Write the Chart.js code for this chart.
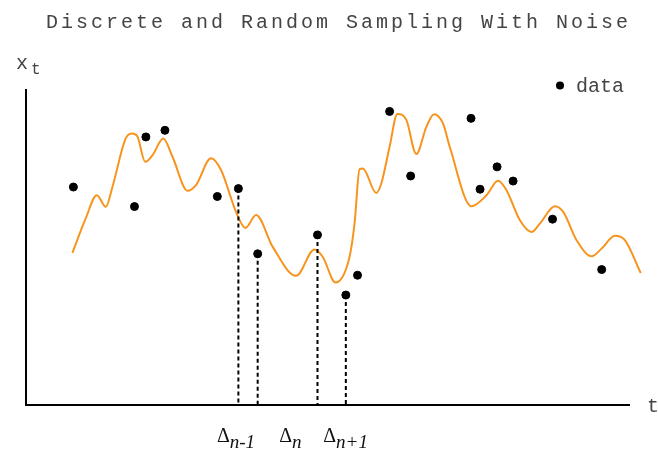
<!DOCTYPE html>
<html>
<head>
<meta charset="utf-8">
<script src="https://cdn.jsdelivr.net/npm/chart.js@4"></script>
<style>
  html, body { margin: 0; padding: 0; background: #fff; }
  #wrap { width: 658px; height: 451px; }
</style>
</head>
<body>
<div id="wrap"><canvas id="c" width="658" height="451"></canvas></div>
<script>
// Underlying continuous process x_t (time, value)
const pathT = [7.69, 9.92, 11.74, 13.24, 14.34, 16.56, 17.66, 18.49, 19.77, 20.98,
  22.76, 24.30, 26.79, 28.19, 30.68, 32.34, 34.83, 36.38, 38.16, 40.91,
  44.80, 47.84, 49.22, 51.33, 53.65, 54.49, 55.32, 55.86, 58.09, 58.92,
  60.30, 61.58, 63.07, 64.73, 66.40, 67.66, 69.15, 70.27, 73.87, 76.36,
  78.29, 79.68, 81.89, 83.84, 85.22, 87.71, 89.09, 91.31, 93.80, 95.47,
  97.67, 99.34, 101.94];
const pathX = [48.3, 59.3, 66.6, 62.9, 69.3, 84.7, 86.2, 85.2, 77.2, 79.3,
  84.6, 78.8, 68.0, 69.8, 78.3, 74.6, 61.3, 56.2, 60.3, 50.2,
  41.0, 49.4, 47.0, 38.9, 47.0, 57.7, 74.9, 75.1, 67.3, 70.3,
  82.0, 92.4, 90.5, 79.7, 88.3, 92.3, 89.4, 82.0, 63.1, 66.6,
  71.2, 68.2, 58.7, 54.9, 57.6, 63.1, 61.3, 52.3, 47.2, 49.7,
  53.7, 52.3, 41.9];

// Noisy observations taken at random times
const sampleT = [7.86, 17.99, 19.88, 23.04, 31.73, 35.22, 38.42, 48.34, 53.04, 54.98,
  60.30, 63.79, 73.80, 75.30, 78.12, 80.78, 87.32, 95.47];
const sampleX = [69.2, 63.0, 85.1, 87.2, 66.2, 68.7, 48.0, 54.0, 34.9, 41.2,
  93.2, 72.7, 91.0, 68.5, 75.6, 71.1, 59.0, 43.0];

// Observations whose times are marked on the t axis
const markedIdx = [5, 6, 7, 8];

// Interval labels under the t axis: Δ with subscript, placed at these times
const deltaSubs = ['n-1', 'n', 'n+1'];
const deltaT = [34.83, 43.85, 53.0];

const ORANGE = '#f7941e';
const MONO = '"Liberation Mono", "Courier New", monospace';
const SERIF = '"Liberation Serif", "Times New Roman", serif';

const datasets = [];
datasets.push({
  type: 'line',
  label: 'x_t',
  data: pathT.map((t, i) => ({ x: t, y: pathX[i] })),
  borderColor: ORANGE,
  borderWidth: 2,
  pointRadius: 0,
  cubicInterpolationMode: 'monotone',
  clip: false,
  order: 3
});
markedIdx.forEach(i => {
  datasets.push({
    type: 'line',
    label: 'drop',
    data: [{ x: sampleT[i], y: sampleX[i] }, { x: sampleT[i], y: 0 }],
    borderColor: '#000',
    borderWidth: 2,
    borderDash: [4, 3],
    pointRadius: 0,
    order: 2
  });
});
datasets.push({
  type: 'scatter',
  label: 'data',
  data: sampleT.map((t, i) => ({ x: t, y: sampleX[i] })),
  backgroundColor: '#000',
  borderColor: '#000',
  pointRadius: 4,
  pointHoverRadius: 4,
  order: 1
});

// Title, axis names, legend and Δ labels
const annotate = {
  id: 'annotate',
  afterDraw(chart) {
    const ctx = chart.ctx;
    const xs = chart.scales.x;
    ctx.save();
    ctx.fillStyle = '#444';
    ctx.textBaseline = 'alphabetic';

    // title
    ctx.font = '20px ' + MONO;
    ctx.letterSpacing = '3px';
    ctx.textAlign = 'left';
    ctx.fillText('Discrete and Random Sampling With Noise', 46, 27.5);
    ctx.letterSpacing = '0px';

    // axis names
    ctx.font = '20px ' + MONO;
    ctx.fillText('x', 16, 69);
    ctx.font = '16px ' + MONO;
    ctx.fillText('t', 31, 74);
    ctx.font = '20px ' + MONO;
    ctx.fillText('t', 647, 412);

    // legend
    ctx.fillStyle = '#000';
    ctx.beginPath();
    ctx.arc(560, 85.5, 4, 0, Math.PI * 2);
    ctx.fill();
    ctx.fillStyle = '#444';
    ctx.font = '20px ' + MONO;
    ctx.fillText(chart.data.datasets[chart.data.datasets.length - 1].label, 576, 91.5);

    // Δ labels
    ctx.fillStyle = '#111';
    const fD = '20px ' + SERIF;
    const fS = 'italic 19px ' + SERIF;
    deltaSubs.forEach((s, i) => {
      const px = xs.getPixelForValue(deltaT[i]);
      ctx.font = fD;
      const wD = ctx.measureText('Δ').width;
      ctx.font = fS;
      const wS = ctx.measureText(s).width;
      const left = px - (wD + wS) / 2;
      ctx.font = fD;
      ctx.fillText('Δ', left, 442);
      ctx.font = fS;
      ctx.fillText(s, left + wD, 447.5);
    });
    ctx.restore();
  }
};

new Chart(document.getElementById('c'), {
  data: { datasets },
  options: {
    responsive: false,
    animation: false,
    events: [],
    layout: { padding: { left: 26, right: 29, top: 90, bottom: 46 } },
    plugins: {
      legend: { display: false },
      title: { display: false },
      tooltip: { enabled: false }
    },
    scales: {
      x: {
        type: 'linear', min: 0, max: 100,
        grid: { display: false, drawTicks: false },
        ticks: { display: false },
        border: { display: true, color: '#000', width: 2 }
      },
      y: {
        type: 'linear', min: 0, max: 100,
        grid: { display: false, drawTicks: false },
        ticks: { display: false },
        border: { display: true, color: '#000', width: 2 }
      }
    }
  },
  plugins: [annotate]
});
</script>
</body>
</html>
